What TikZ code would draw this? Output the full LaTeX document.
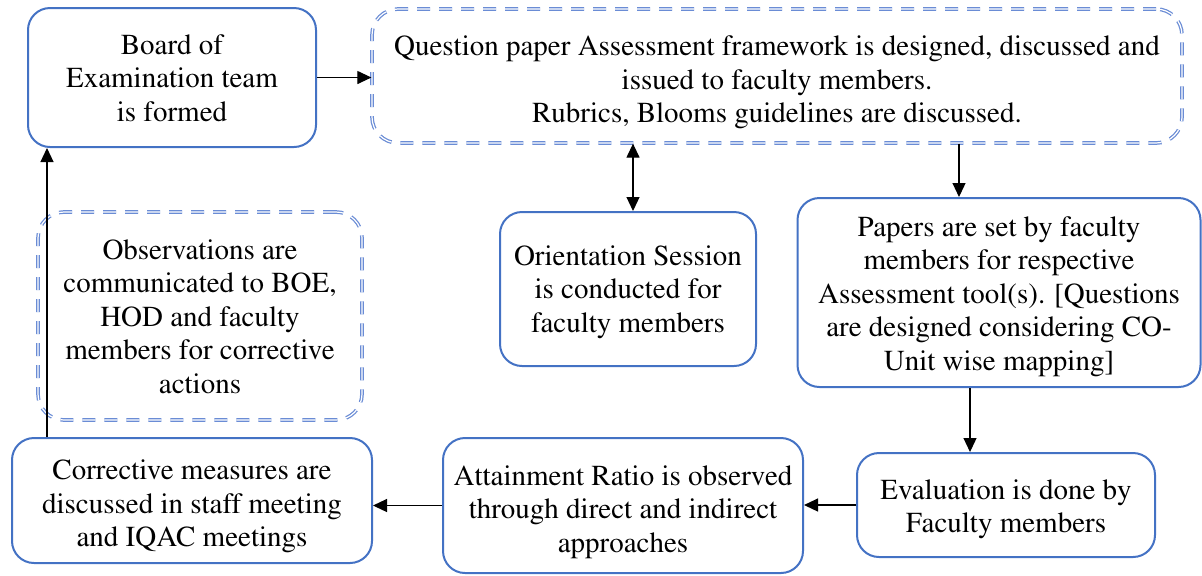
\documentclass[tikz,border=0pt]{standalone}
\usepackage[T1]{fontenc}
\usepackage{times}
\usetikzlibrary{arrows.meta}
\definecolor{boxblue}{HTML}{4472C4}
\definecolor{dashblue}{HTML}{6A8CD5}
% struts fixing the height of the first line and the depth of the last line
\newcommand{\topln}{\rule{0pt}{12pt}}
\newcommand{\botln}{\rule[-4pt]{0pt}{4pt}}
\begin{document}
\begin{tikzpicture}[x=0.5pt,y=-0.5pt,
  txt/.style={font=\fontsize{14.5pt}{16.75pt}\selectfont, align=center, inner sep=0pt},
  solidbox/.style={draw=boxblue, line width=1pt, rounded corners=11pt, inner sep=0pt},
  dashbox/.style={draw=dashblue, line width=0.62pt, double=white, double distance=0.6pt,
                  dash pattern=on 6.5pt off 4.5pt, rounded corners=13pt, inner sep=0pt},
  arr/.style={-{Triangle[length=7pt,width=6.5pt]}, line width=0.6pt},
  biarr/.style={{Triangle[length=7pt,width=6.5pt]}-{Triangle[length=7pt,width=6.5pt]}, line width=0.6pt}]
\useasboundingbox (0,0) rectangle (1202,575);

% boxes
\node[solidbox, minimum width=144pt, minimum height=69.5pt] (board) at (172,77.5) {};
\node[dashbox, minimum width=405pt, minimum height=67pt] (qp) at (777,76) {};
\node[solidbox, minimum width=128pt, minimum height=77pt] (orient) at (628,289) {};
\node[solidbox, minimum width=201.5pt, minimum height=94.5pt] (papers) at (999,292.5) {};
\node[dashbox, minimum width=162pt, minimum height=104pt] (obs) at (200,316) {};
\node[solidbox, minimum width=180pt, minimum height=62.5pt] (corr) at (192,500.5) {};
\node[solidbox, minimum width=180pt, minimum height=67.5pt] (attain) at (623,505.5) {};
\node[solidbox, minimum width=149pt, minimum height=52pt] (eval) at (1006,505) {};

% texts
\node[txt] (board-t) at (172,79.5)
  {\topln Board of\\Examination team\\is formed\botln};
\node[txt] (qp-t) at (777,81)
  {\topln Question paper Assessment framework is designed, discussed and\\issued to faculty members.\\Rubrics, Blooms guidelines are discussed.\botln};
\node[txt] (orient-t) at (628,290.5)
  {\topln Orientation Session\\is conducted for\\faculty members\botln};
\node[txt] (papers-t) at (999,295)
  {\topln Papers are set by faculty\\members for respective\\Assessment tool(s). [Questions\\are designed considering CO-\\Unit wise mapping]\botln};
\node[txt] (obs-t) at (200,318)
  {\topln Observations are\\communicated to BOE,\\HOD and faculty\\members for corrective\\actions\botln};
\node[txt] (corr-t) at (192,505)
  {\topln Corrective measures are\\discussed in staff meeting\\and IQAC meetings\botln};
\node[txt] (attain-t) at (623,510.5)
  {\topln Attainment Ratio is observed\\through direct and indirect\\approaches\botln};
\node[txt] (eval-t) at (1006,508)
  {\topln Evaluation is done by\\Faculty members\botln};

% connectors
\draw[arr] (board.east) -- (board.east -| qp.west);
\draw[biarr] ([xshift=2.5pt]orient.north |- qp.south) -- ([xshift=2.5pt]orient.north);
\draw[arr] ([xshift=-20pt]papers.north |- qp.south) -- ([xshift=-20pt]papers.north);
\draw[arr] ([xshift=-18pt]eval.north |- papers.south) -- ([xshift=-18pt]eval.north);
\draw[arr] (eval.west) -- (eval.west -| attain.east);
\draw[arr] (attain.west) -- (attain.west -| corr.east);
\draw[arr] ([xshift=18pt]corr.north west) -- ([xshift=18pt]corr.north west |- board.south);
\end{tikzpicture}
\end{document}
